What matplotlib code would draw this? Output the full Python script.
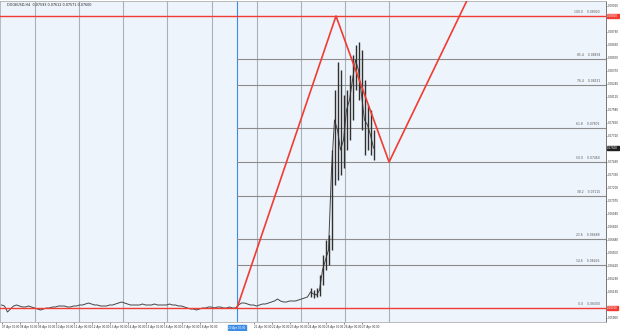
import matplotlib
matplotlib.use("Agg")
import matplotlib.pyplot as plt
import matplotlib.transforms as mtransforms
import numpy as np
import pandas as pd

symbol_text = "DOGEUSD,H4  0.07593 0.07612 0.07571 0.07600"

# close price of every H4 bar
closes = [
    0.0603, 0.0602, 0.0596, 0.0599, 0.0602, 0.0603, 0.0602, 0.0601, 0.0601, 0.0602,
    0.0601, 0.0600, 0.0599, 0.0598, 0.0599, 0.0600, 0.0600, 0.0601, 0.0601, 0.0602,
    0.0602, 0.0602, 0.0601, 0.0601, 0.0602, 0.0602, 0.0603, 0.0603, 0.0604, 0.0605,
    0.0604, 0.0603, 0.0603, 0.0602, 0.0602, 0.0602, 0.0603, 0.0603, 0.0604, 0.0605,
    0.0606, 0.0605, 0.0604, 0.0603, 0.0603, 0.0603, 0.0603, 0.0604, 0.0603, 0.0603,
    0.0603, 0.0604, 0.0603, 0.0603, 0.0603, 0.0603, 0.0604, 0.0603, 0.0603, 0.0602,
    0.0602, 0.0601, 0.0600, 0.0599, 0.0599, 0.0598, 0.0599, 0.0600, 0.0600, 0.0601,
    0.0601, 0.0600, 0.0601, 0.0601, 0.0600, 0.0600, 0.0601, 0.0600, 0.0600, 0.0603,
    0.0605, 0.0605, 0.0604, 0.0603, 0.0603, 0.0602, 0.0603, 0.0604, 0.0604, 0.0605,
    0.0606, 0.0607, 0.0609, 0.0607, 0.0606, 0.0606, 0.0607, 0.0607, 0.0607, 0.0608,
    0.0609, 0.0610, 0.0611, 0.0616, 0.0614, 0.0613, 0.0618, 0.0638, 0.0648, 0.0658,
    0.0738, 0.0788, 0.0778, 0.0758, 0.0768, 0.0798, 0.0808, 0.0828, 0.0848, 0.0838,
    0.0813, 0.0788, 0.0783, 0.0773, 0.0760,
]

# high / low of the volatile bars at the end
spike_start = 103
highs = [0.0620, 0.0618, 0.0620, 0.0633, 0.0653, 0.0668, 0.0673, 0.0758, 0.0818, 0.0846, 0.0838,
         0.0813, 0.0818, 0.0833, 0.0853, 0.0863, 0.0866, 0.0858, 0.0828, 0.0803, 0.0798, 0.0778]
lows = [0.0611, 0.0610, 0.0611, 0.0612, 0.0623, 0.0638, 0.0643, 0.0658, 0.0723, 0.0728, 0.0733,
        0.0740, 0.0758, 0.0768, 0.0788, 0.0818, 0.0808, 0.0778, 0.0753, 0.0758, 0.0753, 0.0748]

fib_low = 0.0600
fib_high = 0.0892
fib_levels = [0.0, 14.6, 23.6, 38.2, 50.0, 61.8, 76.4, 85.4, 100.0]
fib_start = 78.5

zigzag_bars = [78.5, 111.5, 129.2, 165.2]
zigzag_prices = [0.0600, 0.0892, 0.0746, 0.0970]

grid_bars = [11.2, 25.8, 40.5, 55.2, 70.2, 85.2, 99.8, 114.5, 129.2]

times = pd.date_range("2021-04-07 00:00", periods=len(closes), freq="4h")

BG = "#EEF4FB"
RED = "#F03C32"
BLUE = "#3C8CE6"

fig = plt.figure(figsize=(6.2, 3.31), dpi=100)
ax = fig.add_axes([0, 9 / 331, 606 / 620, 321 / 331])
ax.set_facecolor(BG)
ax.set_xlim(-0.5, 201.5)
ax.set_ylim(0.0586, 0.0907)

for g in grid_bars:
    ax.axvline(g, color="#A8B0B8", lw=0.8, zorder=1)

ax.axvline(fib_start, color=BLUE, lw=0.8, zorder=2)

x = np.arange(len(closes))
ax.plot(x, closes, color="#454545", lw=0.7, zorder=3)
xs = x[spike_start:]
ax.vlines(xs, lows, highs, color="#303030", lw=1.0, zorder=3)

rng = fib_high - fib_low
for lv in fib_levels:
    p = fib_low + lv / 100 * rng
    if lv in (0.0, 100.0):
        ax.axhline(p, color=RED, lw=1.0, zorder=4)
    else:
        ax.plot([fib_start, 201.5], [p, p], color="#8C8C8C", lw=0.8, zorder=2)
    ax.text(199.5, p + 0.0002, "%.1f    %.5f" % (lv, p), fontsize=2.2,
            color="#555555", ha="right", va="bottom", zorder=5)

ax.plot(zigzag_bars, zigzag_prices, color=RED, lw=1.2, zorder=5, clip_on=True)

# right price axis (labels hidden where a marker box sits)
ax.yaxis.set_ticks_position("right")
marks = (fib_low, fib_high, closes[-1])
ticks = [t for t in np.arange(0.0590, 0.0907, 0.0013)
         if min(abs(t - m) for m in marks) > 0.0007]
ax.set_yticks(ticks)
ax.set_yticklabels(["%.5f" % t for t in ticks])
ax.tick_params(axis="y", labelsize=2.0, length=1.0, width=0.4, pad=0.6, colors="#333333")

# time axis, leave room for the highlighted bar label
lab_idx = [i for i in range(0, len(closes), 6) if not 70 <= i <= 79]
ax.set_xticks(lab_idx)
ax.set_xticklabels([times[i].strftime("%d %b %H:%M") for i in lab_idx], ha="left")
ax.tick_params(axis="x", labelsize=2.0, length=1.2, width=0.4, pad=1.0, colors="#333333")

for s in ["left", "top", "bottom"]:
    ax.spines[s].set_color("#B0B0B0")
    ax.spines[s].set_linewidth(0.6)
ax.spines["right"].set_color("#606060")
ax.spines["right"].set_linewidth(0.6)

trans = mtransforms.blended_transform_factory(ax.transAxes, ax.transData)
for p in (fib_low, fib_high):
    ax.text(1.002, p, "%.5f" % p, transform=trans, fontsize=2.0, color="white",
            va="center", ha="left", bbox=dict(boxstyle="square,pad=0.15", fc=RED, ec=RED),
            clip_on=False, zorder=6)
ax.text(1.002, closes[-1], "%.5f" % closes[-1], transform=trans, fontsize=2.0, color="white",
        va="center", ha="left", bbox=dict(boxstyle="square,pad=0.15", fc="#202020", ec="#202020"),
        clip_on=False, zorder=6)

btrans = mtransforms.blended_transform_factory(ax.transData, ax.transAxes)
ax.text(fib_start, -0.012, times[78].strftime("%d %b %H:%M"), transform=btrans, fontsize=2.0,
        color="white", ha="center", va="top",
        bbox=dict(boxstyle="square,pad=0.3", fc=BLUE, ec=BLUE), clip_on=False, zorder=6)

ax.text(0.012, 0.993, symbol_text, transform=ax.transAxes, fontsize=2.4, color="#222222",
        ha="left", va="top")

fig.savefig("out.png", dpi=100, facecolor="white")
